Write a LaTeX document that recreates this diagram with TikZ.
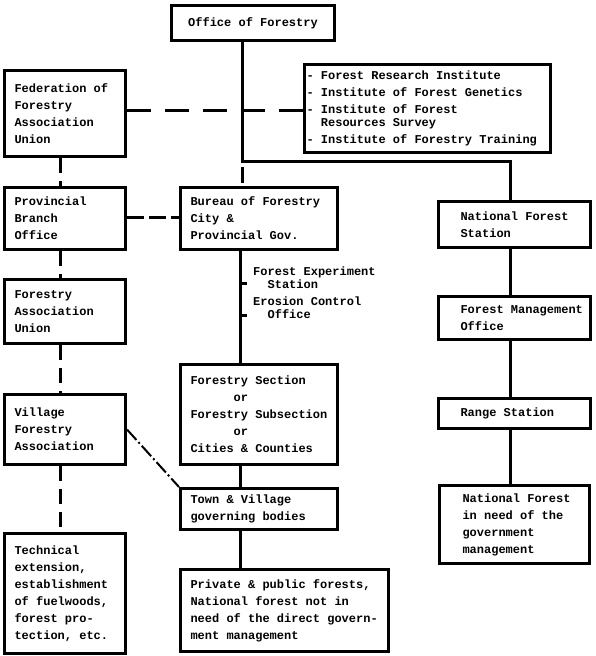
\documentclass[tikz,border=0pt]{standalone}
\usepackage{fontspec}
\newfontfamily\dotfont[BoldFont={Liberation Mono Bold}]{Liberation Mono}
\newcommand\chartfont{\dotfont\bfseries\fontsize{12pt}{17pt}\selectfont\hyphenpenalty=10000 }
\newcommand\lblfont{\dotfont\bfseries\fontsize{12pt}{13pt}\selectfont}
\newcommand\ind[1]{\leftskip=#1\relax\spaceskip=0pt\relax\xspaceskip=0pt\relax}
\begin{document}
\begin{tikzpicture}[x=1pt,y=-1pt,
  box/.style={draw, line width=3pt, inner sep=0pt, anchor=north west, align=left, font=\chartfont},
  conn/.style={line width=3pt},
  dconn/.style={line width=3pt, dash pattern=on 15pt off 8pt},
  dlong/.style={line width=3pt, dash pattern=on 24pt off 14pt},
  dshort/.style={line width=3pt, dash pattern=on 17pt off 5pt},
  ddot/.style={line width=2pt, dash pattern=on 14pt off 3pt on 2pt off 3pt},
  lbl/.style={anchor=base west, align=left, inner sep=0pt, font=\lblfont}]
\useasboundingbox (0,0) rectangle (595,656);

% boxes
\node[draw, line width=3pt, inner sep=0pt, anchor=north west, font=\chartfont, minimum width=163pt, minimum height=35pt] (office) at (170,4) {Office of Forestry};
\node[box, text width=121pt, minimum height=86pt] (fed) at (3,69) {\ind{10pt}Federation of\\Forestry\\Association\\Union\par};
\node[box, text width=246pt, minimum height=88pt] (research) at (303,63) {\ind{2pt}- Forest Research Institute\\- Institute of Forest Genetics\\- Institute of Forest\\[-4pt]\hspace*{1.2em}Resources Survey\\- Institute of Forestry Training\par};
\node[box, text width=121pt, minimum height=62pt] (prov) at (3,186) {\ind{10pt}Provincial\\Branch\\Office\par};
\node[box, text width=157pt, minimum height=62pt] (bureau) at (179,186) {\ind{10pt}Bureau of Forestry\\City \&\\Provincial Gov.\par};
\node[box, text width=152pt, minimum height=46pt] (nfs) at (437,200) {\ind{22pt}National Forest\\Station\par};
\node[box, text width=121pt, minimum height=64pt] (fau) at (3,278) {\ind{10pt}Forestry\\Association\\Union\par};
\node[box, text width=152pt, minimum height=43pt] (fmo) at (437,295) {\ind{22pt}Forest Management\\Office\par};
\node[box, text width=157pt, minimum height=100pt] (fsec) at (179,363) {\ind{10pt}Forestry Section\\\hspace*{3.6em}or\\Forestry Subsection\\\hspace*{3.6em}or\\Cities \& Counties\par};
\node[box, text width=121pt, minimum height=70pt] (village) at (3,393) {\ind{10pt}Village\\Forestry\\Association\par};
\node[box, text width=152pt, minimum height=30pt] (range) at (437,397) {\ind{22pt}Range Station\par};
\node[box, text width=150pt, minimum height=78pt] (nfneed) at (438,484) {\ind{23pt}National Forest\\in need of the\\government\\management\par};
\node[box, text width=157pt, minimum height=41pt] (town) at (179,487) {\ind{10pt}Town \& Village\\governing bodies\par};
\node[box, text width=121pt, minimum height=120pt] (tech) at (3,532) {\ind{10pt}Technical\\extension,\\establishment\\of fuelwoods,\\forest pro-\\tection, etc.\par};
\node[box, text width=208pt, minimum height=82pt] (priv) at (179,568) {\ind{10pt}Private \& public forests,\\National forest not in\\need of the direct govern-\\ment management\par};

% guide coordinates
\coordinate (j1) at (242,161);
\coordinate (rcol) at (510,0);
\coordinate (mcol) at (240,0);
\coordinate (lcol) at (60,0);
\coordinate (hr) at (0,110);
\coordinate (hp) at (0,217);

% solid hierarchy
\draw[conn] (office.south -| j1) -- (j1) -- (j1 -| rcol) -- (nfs.north -| rcol);
\draw[conn] (nfs.south -| rcol) -- (fmo.north -| rcol);
\draw[conn] (fmo.south -| rcol) -- (range.north -| rcol);
\draw[conn] (range.south -| rcol) -- (nfneed.north -| rcol);
\draw[conn] (bureau.south -| mcol) -- (fsec.north -| mcol);
\draw[conn] (fsec.south -| mcol) -- (town.north -| mcol);
\draw[conn] (town.south -| mcol) -- (priv.north -| mcol);

% dashed links
\draw[line width=3pt, dash pattern=on 0pt off 6pt on 16pt off 10pt] (j1) -- (bureau.north -| j1);
\draw[dlong] (fed.east |- hr) -- (research.west |- hr);
\draw[dshort] (prov.east |- hp) -- (bureau.west |- hp);
\draw[dconn] (fed.south -| lcol) -- (prov.north -| lcol);
\draw[dconn] (prov.south -| lcol) -- (fau.north -| lcol);
\draw[dconn] (fau.south -| lcol) -- (village.north -| lcol);
\draw[dconn] (village.south -| lcol) -- (tech.north -| lcol);
\draw[ddot] (village.east) -- (town.north west);

% side offices on the bureau line
\coordinate (t1) at (240,283);
\coordinate (t2) at (240,315);
\draw[conn] (t1) -- ++(7,0);
\draw[conn] (t2) -- ++(7,0);
\node[lbl] (lexp) at (253,288) {Forest Experiment\\\hspace*{1.2em}Station};
\node[lbl] (lero) at (253,318) {Erosion Control\\\hspace*{1.2em}Office};
\end{tikzpicture}
\end{document}
